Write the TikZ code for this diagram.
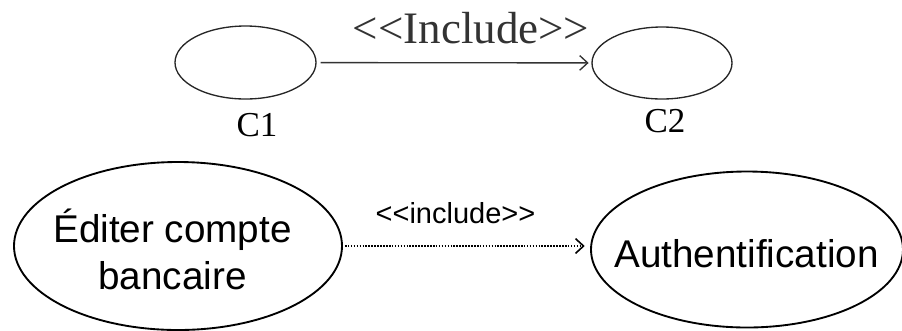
\documentclass[tikz,border=0pt]{standalone}
\usepackage{fontspec}
\setmainfont{Liberation Serif}
\setsansfont{Liberation Sans}
\usepackage{tikz}
\usetikzlibrary{
  shapes.geometric,%
  % open arrow heads
  arrows.meta,%
  positioning
}
\tikzset{>={Straight Barb[length=6pt,width=11pt]}}
\tikzset{usecase/.style={ellipse, draw, inner sep=0pt},
  smallcase/.style={usecase, line width=1pt, draw=black!85},
  bigcase/.style={usecase, line width=1.4pt},
  casetext/.style={font=\sffamily\fontsize{29}{35.25}\selectfont, align=center, inner sep=0pt}}

\begin{document}
\begin{tikzpicture}[x=0.75pt, y=-0.75pt]
          \useasboundingbox (0, 0) rectangle (902, 330);
          % top: generic include
          \node[smallcase, minimum width=105.75pt, minimum height=54.75pt] (c1) at (245.5, 62.5) {};
          \node[smallcase, minimum width=105pt, minimum height=54pt] (c2) at (662, 63) {};
          \draw[->, line width=1pt, draw=black!80, shorten <=3pt, shorten >=2pt] (c1) -- (c2);
          \node[anchor=base, font=\fontsize{33.75}{40}\selectfont, text=black!80] (inc) at (471, 43) {{<}{<}Include{>}{>}};
          \node[anchor=base, font=\fontsize{26.25}{30}\selectfont] (c1name) at (257, 136) {C1};
          \node[anchor=base, font=\fontsize{26.25}{30}\selectfont] (c2name) at (665, 132) {C2};
          % bottom: example
          \node[bigcase, minimum width=246pt, minimum height=126pt] (edit) at (178, 246) {};
          \node[bigcase, minimum width=234pt, minimum height=117pt] (auth) at (747, 249.5) {};
          \node[casetext] (edittext) at (172.5, 249) {Éditer compte\\bancaire};
          \node[casetext, anchor=base] (authtext) at (746.5, 267) {Authentification};
          \draw[->, densely dotted, line width=1.2pt, shorten <=1.5pt, shorten >=4pt] (edit.east) -- (edit.east -| auth.west);
          \node[anchor=base, font=\sffamily\fontsize{21.75}{26}\selectfont] (incl) at (455.5, 223) {{<}{<}include{>}{>}};
        \end{tikzpicture}
\end{document}
